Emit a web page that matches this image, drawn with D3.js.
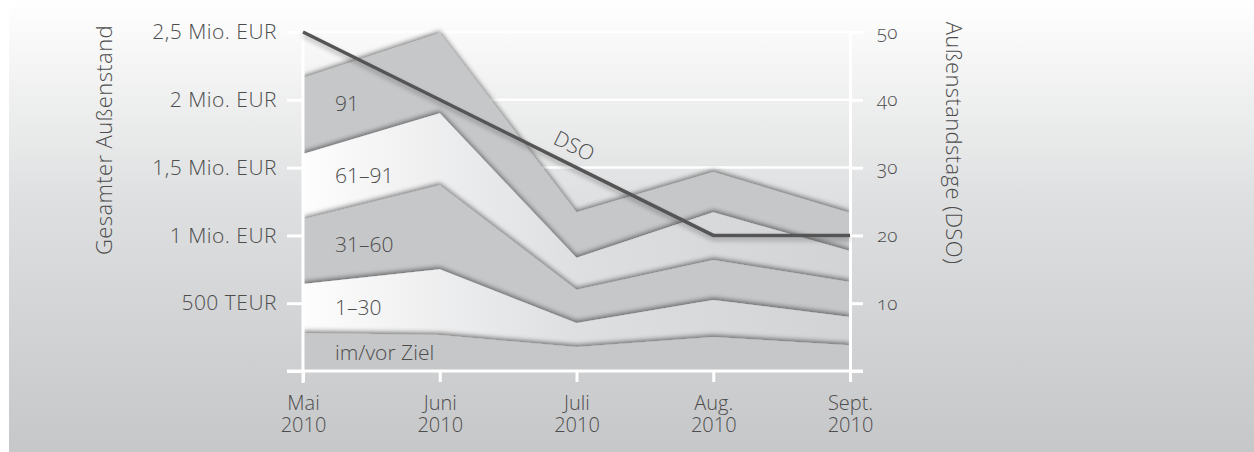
<!DOCTYPE html>
<html>
<head>
<meta charset="utf-8">
<script src="https://cdn.jsdelivr.net/npm/d3@7"></script>
<style>
  body { margin: 0; background: #fff; }
  text { font-family: "Open Sans", "Noto Sans", sans-serif; font-weight: 300; fill: #4d4d4d; }
</style>
</head>
<body>
<div id="chart"></div>
<script>
const svgWidth = 1254;
const svgHeight = 452;

// months on the x axis
const months = ["Mai", "Juni", "Juli", "Aug.", "Sept."];
const years = ["2010", "2010", "2010", "2010", "2010"];

// outstanding amount per age band (EUR)
const bandNames = ["im/vor Ziel", "1–30", "31–60", "61–91", "91"];
const zielValues = [280000, 265000, 177000, 250000, 190000];
const d1to30Values = [362000, 485000, 177000, 274000, 208000];
const d31to60Values = [478000, 620000, 246000, 294000, 258000];
const d61to91Values = [480000, 530000, 235000, 352000, 229000];
const d91Values = [560000, 590000, 335000, 298000, 280000];

// days sales outstanding
const dsoValues = [50, 40, 30, 20, 20];

// tick labels
const leftTicks = [0, 500000, 1000000, 1500000, 2000000, 2500000];
const leftTickLabels = ["", "500 TEUR", "1 Mio. EUR", "1,5 Mio. EUR", "2 Mio. EUR", "2,5 Mio. EUR"];
const rightTicks = [0, 10, 20, 30, 40, 50];
const rightTickLabels = ["", "10", "20", "30", "40", "50"];

const margin = { top: 32, right: 404, bottom: 81, left: 303 };
const width = svgWidth - margin.left - margin.right;
const height = svgHeight - margin.top - margin.bottom;

const svg = d3.select("#chart")
    .append("svg")
    .attr("width", svgWidth)
    .attr("height", svgHeight);

const defs = svg.append("defs");

// background gradient
const bg = defs.append("linearGradient").attr("id", "bg")
    .attr("x1", 0).attr("y1", 0).attr("x2", 0).attr("y2", 1);
bg.append("stop").attr("offset", "0%").attr("stop-color", "#ffffff");
bg.append("stop").attr("offset", "45%").attr("stop-color", "#dedfe0");
bg.append("stop").attr("offset", "100%").attr("stop-color", "#c6c7c9");

// light bands fade from white to grey
const light = defs.append("linearGradient").attr("id", "light")
    .attr("gradientUnits", "userSpaceOnUse")
    .attr("x1", margin.left).attr("y1", 0).attr("x2", margin.left + width).attr("y2", 0);
light.append("stop").attr("offset", "0%").attr("stop-color", "#fdfdfd");
light.append("stop").attr("offset", "50%").attr("stop-color", "#dedfe1");
light.append("stop").attr("offset", "100%").attr("stop-color", "#d2d3d5");

const shadow = defs.append("filter").attr("id", "shadow")
    .attr("x", "-5%").attr("y", "-20%").attr("width", "110%").attr("height", "140%");
shadow.append("feGaussianBlur").attr("in", "SourceAlpha").attr("stdDeviation", 2.5);
shadow.append("feOffset").attr("dy", -2).attr("result", "off");
shadow.append("feComponentTransfer").append("feFuncA").attr("type", "linear").attr("slope", 0.5);
const sm = shadow.append("feMerge");
sm.append("feMergeNode");
sm.append("feMergeNode").attr("in", "SourceGraphic");

const lineShadow = defs.append("filter").attr("id", "lineShadow")
    .attr("x", "-10%").attr("y", "-10%").attr("width", "120%").attr("height", "130%");
lineShadow.append("feGaussianBlur").attr("in", "SourceAlpha").attr("stdDeviation", 2.5);
lineShadow.append("feOffset").attr("dy", 3);
lineShadow.append("feComponentTransfer").append("feFuncA").attr("type", "linear").attr("slope", 0.3);
const lm = lineShadow.append("feMerge");
lm.append("feMergeNode");
lm.append("feMergeNode").attr("in", "SourceGraphic");

defs.append("clipPath").attr("id", "plotClip")
  .append("rect")
    .attr("x", margin.left).attr("y", 0)
    .attr("width", width).attr("height", margin.top + height);

svg.append("rect")
    .attr("x", 9).attr("y", 0)
    .attr("width", svgWidth - 9).attr("height", svgHeight)
    .attr("fill", "url(#bg)");

// scales
const x = d3.scalePoint().domain(months).range([margin.left, margin.left + width]);
const y = d3.scaleLinear().domain([0, 2500000]).range([margin.top + height, margin.top]);
const yR = d3.scaleLinear().domain([0, 50]).range([margin.top + height, margin.top]);

// gridlines
svg.append("g")
  .selectAll("line")
  .data(leftTicks.slice(1))
  .enter()
  .append("line")
    .attr("x1", margin.left).attr("x2", margin.left + width)
    .attr("y1", d => y(d)).attr("y2", d => y(d))
    .attr("stroke", "#ffffff")
    .attr("stroke-width", 2.5);

// stacked areas
const table = months.map((m, i) => ({
    month: m,
    [bandNames[0]]: zielValues[i],
    [bandNames[1]]: d1to30Values[i],
    [bandNames[2]]: d31to60Values[i],
    [bandNames[3]]: d61to91Values[i],
    [bandNames[4]]: d91Values[i]
}));
const series = d3.stack().keys(bandNames)(table);

const area = d3.area()
    .x(d => x(d.data.month))
    .y0(d => y(d[0]))
    .y1(d => y(d[1]));

const bandFill = ["#c6c7c9", "url(#light)", "#c6c7c9", "url(#light)", "#c6c7c9"];

svg.append("g")
    .attr("clip-path", "url(#plotClip)")
  .selectAll("path")
  .data(series.slice().reverse())
  .enter()
  .append("path")
    .attr("d", area)
    .attr("fill", d => bandFill[d.index])
    .attr("filter", "url(#shadow)");

// band labels, placed a little right of the first month
const t = 0.31;
svg.append("g")
  .selectAll("text")
  .data(series)
  .enter()
  .append("text")
    .attr("x", 335)
    .attr("y", d => {
        const lo = y(d[0][0]) + (y(d[1][0]) - y(d[0][0])) * t;
        const hi = y(d[0][1]) + (y(d[1][1]) - y(d[0][1])) * t;
        return (lo + hi) / 2;
    })
    .attr("dominant-baseline", "central")
    .style("font-size", "21px")
    .text(d => d.key);

// axes
function styleAxis(g) {
    g.select(".domain").attr("stroke", "#ffffff").attr("stroke-width", 3);
    g.selectAll(".tick line").attr("stroke", "#ffffff").attr("stroke-width", 3);
    g.selectAll(".tick text").style("font-size", "21px").attr("fill", "#4d4d4d");
}

const bottomAxis = d3.axisBottom(x).tickSize(11).tickSizeOuter(0);
const xAxis = svg.append("g")
    .attr("transform", `translate(0, ${margin.top + height})`)
    .call(bottomAxis)
    .call(styleAxis);
xAxis.select(".domain").attr("d", `M${margin.left - 16},0H${margin.left + width + 13}`);
xAxis.selectAll(".tick text")
    .attr("y", 0).attr("dy", null)
    .style("font-size", "20px")
    .text(null)
    .each(function(d, i) {
        const txt = d3.select(this);
        txt.append("tspan").attr("x", 0).attr("y", 39).text(d);
        txt.append("tspan").attr("x", 0).attr("y", 61).text(years[i]);
    });

const leftAxis = d3.axisLeft(y)
    .tickValues(leftTicks)
    .tickFormat((d, i) => leftTickLabels[i])
    .tickSize(16).tickPadding(10).tickSizeOuter(0);
svg.append("g")
    .attr("transform", `translate(${margin.left}, 0)`)
    .call(leftAxis)
    .call(styleAxis)
    .call(g => g.selectAll(".tick text").style("letter-spacing", "0.5px"))
    .select(".domain").attr("d", `M0,${margin.top}V${margin.top + height + 12}`);

const rightAxis = d3.axisRight(yR)
    .tickValues(rightTicks)
    .tickFormat((d, i) => rightTickLabels[i])
    .tickSize(13).tickPadding(14).tickSizeOuter(0);
svg.append("g")
    .attr("transform", `translate(${margin.left + width}, 0)`)
    .call(rightAxis)
    .call(styleAxis)
    .selectAll(".tick text")
    .style("font-variant-numeric", "oldstyle-nums")
    .style("font-size", "19px");

// axis titles
svg.append("text")
    .attr("transform", `translate(103, 140) rotate(-90)`)
    .attr("text-anchor", "middle")
    .attr("dominant-baseline", "central")
    .style("font-size", "22px")
    .style("letter-spacing", "0.4px")
    .text("Gesamter Außenstand");

svg.append("text")
    .attr("transform", `translate(955, 143) rotate(90)`)
    .attr("text-anchor", "middle")
    .attr("dominant-baseline", "central")
    .style("font-size", "22px")
    .style("letter-spacing", "0.4px")
    .text("Außenstandstage (DSO)");

// DSO line
const line = d3.line()
    .x((d, i) => x(months[i]))
    .y(d => yR(d));

svg.append("path")
    .datum(dsoValues)
    .attr("d", line)
    .attr("fill", "none")
    .attr("stroke", "#555557")
    .attr("stroke-width", 3.5)
    .attr("filter", "url(#lineShadow)");

const x1 = x(months[1]), x2 = x(months[2]);
const y1 = yR(dsoValues[1]), y2 = yR(dsoValues[2]);
const angle = Math.atan2(y2 - y1, x2 - x1) * 180 / Math.PI;
const lx = 566;
const ly = y1 + (y2 - y1) * (lx - x1) / (x2 - x1);
svg.append("text")
    .attr("transform", `translate(${lx}, ${ly}) rotate(${angle}) translate(0, -11)`)
    .attr("text-anchor", "middle")
    .style("font-size", "21px")
    .text("DSO");
</script>
</body>
</html>
